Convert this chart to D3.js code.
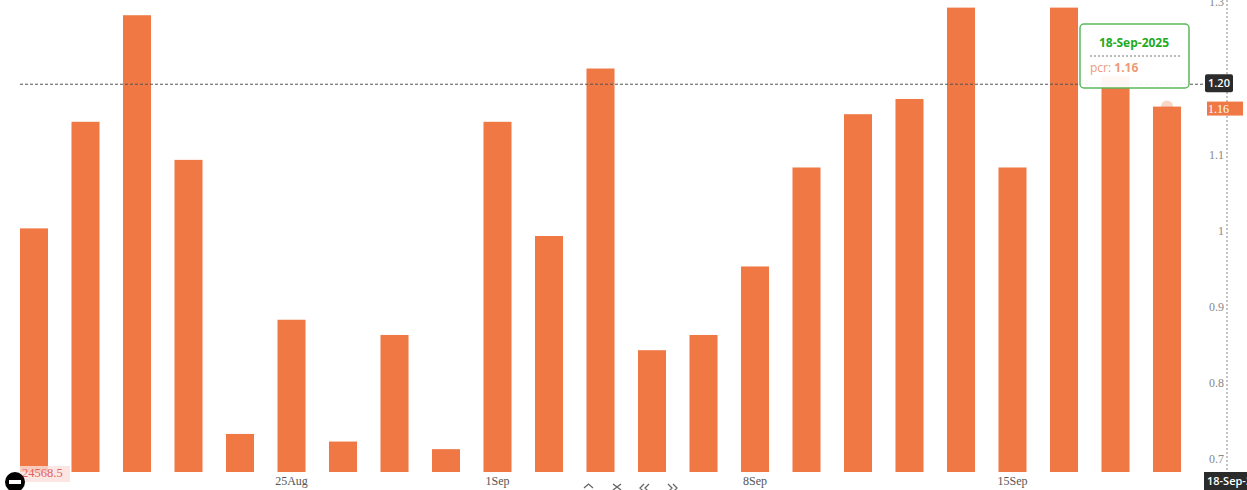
<!DOCTYPE html>
<html>
<head>
<meta charset="utf-8">
<script src="https://cdn.jsdelivr.net/npm/d3@7"></script>
<style>
  html, body { margin: 0; padding: 0; background: #fff; overflow: hidden; }
  svg { display: block; }
</style>
</head>
<body>
<svg id="canvas"></svg>
<script>
// Trading days on the x axis.
var categories = ['18-Aug','19-Aug','20-Aug','21-Aug','22-Aug','25-Aug','26-Aug','28-Aug','29-Aug',
                  '1-Sep','2-Sep','3-Sep','4-Sep','5-Sep','8-Sep','9-Sep','10-Sep','11-Sep','12-Sep',
                  '15-Sep','16-Sep','17-Sep','18-Sep'];

// pcr value of each day.
var pcrValues = [1.00,1.14,1.28,1.09,0.73,0.88,0.72,0.86,0.71,1.14,0.99,1.21,0.84,0.86,0.95,1.08,1.15,1.17,1.29,1.08,1.29,1.20,1.16];

// Tick labels.
var xTickCategories = ['25-Aug','1-Sep','8-Sep','15-Sep'];
var xTickLabels = ['25Aug','1Sep','8Sep','15Sep'];
var yTickValues = [0.7,0.8,0.9,1,1.1,1.2,1.3];
var hiddenYTick = 1.2;

// Hover state.
var crosshairValue = 1.19;
var crosshairLabel = '1.20';
var hoverCategory = '18-Sep';
var hoverDate = '18-Sep-2025';
var hoverName = 'pcr:';
var hoverValue = '1.16';
var priceLabel = '24568.5';
var dateTag = '18-Sep-2025';

var canvasWidth = 1247;
var canvasHeight = 490;
var barColor = '#ef7845';
var serif = '"Liberation Serif", serif';
var sans = '"Open Sans", sans-serif';

var svg = d3.select('#canvas')
            .attr('width', canvasWidth)
            .attr('height', canvasHeight);

var translation = function(x, y) {
  return 'translate(' + x + ',' + y + ')';
};

// Scales.
var xScale = d3.scaleBand()
               .domain(categories)
               .range([8.25, 1192.75])
               .paddingInner(0.456)
               .paddingOuter(0.228);

var yScale = d3.scaleLinear()
               .domain([0.68, 1.3])
               .range([472, 0]);

// Bars.
svg.append('g').selectAll('rect')
   .data(pcrValues)
   .enter()
   .append('rect')
   .attr('x', function(d, i) { return xScale(categories[i]); })
   .attr('y', function(d) { return yScale(d); })
   .attr('width', xScale.bandwidth())
   .attr('height', function(d) { return yScale.range()[0] - yScale(d); })
   .attr('fill', barColor);

// Horizontal axis, labels only.
var xAxis = d3.axisBottom(xScale)
              .tickValues(xTickCategories)
              .tickSize(0)
              .tickPadding(0)
              .tickFormat(function(d) { return xTickLabels[xTickCategories.indexOf(d)]; });
var xAxisGroup = svg.append('g')
                    .attr('transform', translation(0, 476))
                    .call(xAxis);
xAxisGroup.select('.domain').remove();
xAxisGroup.selectAll('text')
          .attr('font-family', serif)
          .attr('font-size', 12)
          .attr('fill', '#555');

// Vertical axis, dotted line on the right with labels on its left.
var yAxis = d3.axisLeft(yScale)
              .tickValues(yTickValues.filter(function(d) { return d != hiddenYTick; }))
              .tickSize(0)
              .tickPadding(3)
              .tickFormat(function(d) { return d; });
var yAxisGroup = svg.append('g')
                    .attr('transform', translation(1227, 2))
                    .call(yAxis);
yAxisGroup.select('.domain').remove();
yAxisGroup.selectAll('text')
          .attr('font-family', serif)
          .attr('font-size', 12)
          .attr('fill', '#888');

svg.append('line')
   .attr('x1', 1227).attr('x2', 1227)
   .attr('y1', 0).attr('y2', 472)
   .attr('stroke', '#888')
   .attr('stroke-dasharray', '2,2');

// Crosshair.
var crossY = yScale(crosshairValue) + 0.5;
svg.append('line')
   .attr('x1', 20).attr('x2', 1205)
   .attr('y1', crossY).attr('y2', crossY)
   .attr('stroke', '#555')
   .attr('stroke-dasharray', '3,2');

svg.append('rect')
   .attr('x', 1205).attr('y', crossY - 10)
   .attr('width', 28).attr('height', 18)
   .attr('rx', 2)
   .attr('fill', '#2b2b2b');
svg.append('text')
   .attr('x', 1219).attr('y', crossY - 1)
   .attr('dy', '0.35em')
   .attr('text-anchor', 'middle')
   .attr('font-family', sans)
   .attr('font-size', 11)
   .attr('font-weight', 600)
   .attr('fill', '#fff')
   .text(crosshairLabel);

// Highlighted point on the hovered bar.
var hoverX = xScale(hoverCategory) + xScale.bandwidth() / 2;
var hoverY = yScale(pcrValues[categories.indexOf(hoverCategory)]);
svg.append('circle')
   .attr('cx', hoverX).attr('cy', hoverY)
   .attr('r', 6)
   .attr('fill', barColor)
   .attr('opacity', 0.3);

// Current value tag.
svg.append('rect')
   .attr('x', 1207).attr('y', hoverY - 5)
   .attr('width', 36).attr('height', 14)
   .attr('fill', barColor);
svg.append('text')
   .attr('x', 1208).attr('y', hoverY + 2)
   .attr('dy', '0.35em')
   .attr('font-family', serif)
   .attr('font-size', 12)
   .attr('fill', '#fff')
   .text(hoverValue);

// Tooltip.
svg.append('rect')
   .attr('x', 1080).attr('y', 24)
   .attr('width', 109).attr('height', 64)
   .attr('rx', 4)
   .attr('fill', '#fff')
   .attr('fill-opacity', 0.94)
   .attr('stroke', '#5cb85c')
   .attr('stroke-width', 1.5);
svg.append('text')
   .attr('x', 1134).attr('y', 43)
   .attr('dy', '0.35em')
   .attr('text-anchor', 'middle')
   .attr('font-family', sans)
   .attr('font-size', 12)
   .attr('font-weight', 700)
   .attr('fill', '#22aa22')
   .text(hoverDate);
svg.append('line')
   .attr('x1', 1090).attr('x2', 1180)
   .attr('y1', 56).attr('y2', 56)
   .attr('stroke', '#777')
   .attr('stroke-dasharray', '2,2');
var hoverText = svg.append('text')
                   .attr('x', 1090).attr('y', 68)
                   .attr('dy', '0.35em')
                   .attr('font-family', sans)
                   .attr('font-size', 12)
                   .attr('fill', '#ee9a78');
hoverText.append('tspan').text(hoverName + ' ');
hoverText.append('tspan').attr('font-weight', 700).text(hoverValue);

// Price label, bottom left.
svg.append('rect')
   .attr('x', 20).attr('y', 466)
   .attr('width', 50).attr('height', 16)
   .attr('fill', '#fbe0dc')
   .attr('fill-opacity', 0.8);
svg.append('text')
   .attr('x', 22).attr('y', 473)
   .attr('dy', '0.35em')
   .attr('font-family', serif)
   .attr('font-size', 12.5)
   .attr('fill', '#e0625a')
   .text(priceLabel);

// Minus button.
svg.append('circle')
   .attr('cx', 15).attr('cy', 482)
   .attr('r', 10)
   .attr('fill', '#000');
svg.append('rect')
   .attr('x', 9).attr('y', 480)
   .attr('width', 12).attr('height', 4)
   .attr('fill', '#fff');

// Date tag, bottom right.
svg.append('rect')
   .attr('x', 1204).attr('y', 472)
   .attr('width', 43).attr('height', 18)
   .attr('fill', '#2b2b2b');
svg.append('text')
   .attr('x', 1207).attr('y', 481)
   .attr('dy', '0.35em')
   .attr('font-family', sans)
   .attr('font-size', 11)
   .attr('font-weight', 600)
   .attr('fill', '#fff')
   .text(dateTag);

// Chart nav controls.
var navIcons = [
  'M584 488 L588.5 484 L593 488',
  'M613 484 L621 490 M621 484 L613 490',
  'M644 484 L640 488 L644 492 M649 484 L645 488 L649 492',
  'M668 484 L672 488 L668 492 M673 484 L677 488 L673 492'
];
svg.append('g').selectAll('path')
   .data(navIcons)
   .enter()
   .append('path')
   .attr('d', function(d) { return d; })
   .attr('fill', 'none')
   .attr('stroke', '#666')
   .attr('stroke-width', 1.3);
</script>
</body>
</html>
